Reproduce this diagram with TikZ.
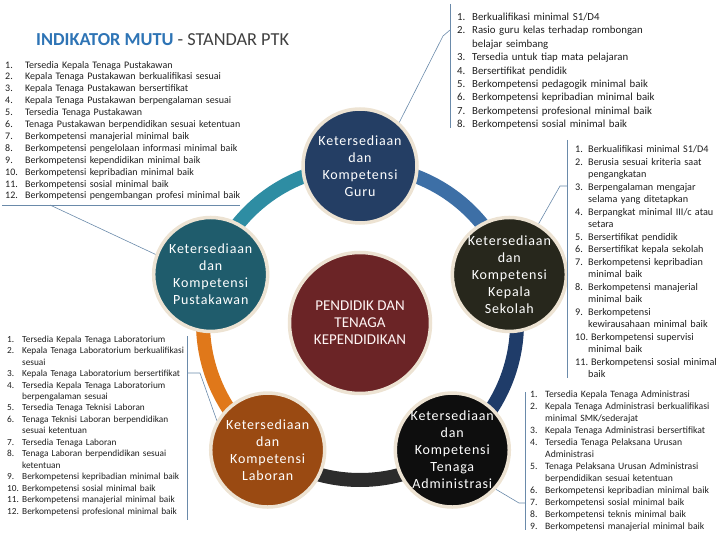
\documentclass[tikz,border=0pt]{standalone}
\usepackage{fontspec}
\setmainfont{Carlito}
\newfontfamily\discfont[LetterSpace=6]{Carlito}
\usetikzlibrary{positioning,backgrounds}

\definecolor{titleBlue}{HTML}{2E74B5}
\definecolor{titleGray}{HTML}{404040}
\definecolor{guruBlue}{HTML}{243E64}
\definecolor{pustTeal}{HTML}{1F5C6C}
\definecolor{kepsekDark}{HTML}{27271C}
\definecolor{ptkRed}{HTML}{6B2426}
\definecolor{labBrown}{HTML}{9A4A12}
\definecolor{admBlack}{HTML}{0E0E0E}
\definecolor{discRim}{HTML}{EDE3D3}
\definecolor{ringTeal}{HTML}{2E8DA3}
\definecolor{ringBlue}{HTML}{3D6FA6}
\definecolor{ringNavy}{HTML}{1F3C69}
\definecolor{ringGray}{HTML}{2C2C2C}
\definecolor{ringOrange}{HTML}{E0781A}
\definecolor{calloutLine}{HTML}{6A8AAA}

\newcounter{mutuitem}
\newenvironment{mutulist}[2]{%
  \begin{list}{\arabic{mutuitem}.}{\usecounter{mutuitem}%
    \setlength\leftmargin{#1}\setlength\labelsep{#2}%
    \setlength\labelwidth{\leftmargin}\addtolength\labelwidth{-\labelsep}%
    \setlength\itemsep{0pt}\setlength\parsep{0pt}\setlength\topsep{0pt}%
    \setlength\partopsep{0pt}\setlength\itemindent{0pt}%
    \renewcommand\makelabel[1]{##1\hfil}}}%
  {\end{list}}

\begin{document}
\begin{tikzpicture}[
  x=1pt, y=1pt,
  disc/.style={circle, draw=discRim, line width=3.5pt, minimum size=114pt, inner sep=0pt},
  disclabel/.style={text=white, align=center, font=\discfont\fontsize{14}{17}\selectfont},
  band/.style={line width=14pt},
  mututext/.style={anchor=north west, inner sep=0pt, text width=300pt, align=left, text=black!88},
  callout/.style={draw=calloutLine, line width=0.6pt}
]
\useasboundingbox (0,0) rectangle (720,-540);
\coordinate (hub) at (360,-323);

% lingkaran
\node[disc, minimum size=141pt, fill=ptkRed] (ptk) at (hub) {};
\node[text=red!4!white, align=center, font=\fontsize{15}{17}\selectfont] at (ptk) {PENDIDIK DAN\\TENAGA\\KEPENDIDIKAN};
\node[disc, fill=guruBlue] (guru) at ([shift={(90:157)}]hub) {};
\node[disclabel] at (guru) {Ketersediaan\\dan\\Kompetensi\\Guru};
\node[disc, fill=pustTeal] (pust) at ([shift={(162:157)}]hub) {};
\node[disclabel] at (pust) {Ketersediaan\\dan\\Kompetensi\\Pustakawan};
\node[disc, fill=kepsekDark] (kepsek) at ([shift={(18:157)}]hub) {};
\node[disclabel] at (kepsek) {Ketersediaan\\dan\\Kompetensi\\Kepala\\Sekolah};
\node[disc, fill=labBrown] (lab) at ([shift={(-126:157)}]hub) {};
\node[disclabel] at (lab) {Ketersediaan\\dan\\Kompetensi\\Laboran};
\node[disc, fill=admBlack] (adm) at ([shift={(-54:157)}]hub) {};
\node[disclabel] at (adm) {Ketersediaan\\dan\\Kompetensi\\Tenaga\\Administrasi};

% cincin
\begin{scope}[on background layer]
\draw[band, draw=ringBlue] (guru.center) arc[start angle=90, end angle=18, radius=157];
\draw[band, draw=ringNavy] (kepsek.center) arc[start angle=18, end angle=-54, radius=157];
\draw[band, draw=ringGray] (adm.center) arc[start angle=-54, end angle=-126, radius=157];
\draw[band, draw=ringOrange] (lab.center) arc[start angle=-126, end angle=-198, radius=157];
\draw[band, draw=ringTeal] (pust.center) arc[start angle=162, end angle=90, radius=157];
\end{scope}

\node[anchor=west, inner sep=0pt, font=\fontsize{18.3}{21}\selectfont] (title) at (36,-40)
  {\textcolor{titleBlue}{\bfseries INDIKATOR MUTU} \textcolor{titleGray}{- STANDAR PTK}};

% daftar
\node[mututext, font=\fontsize{10}{11.9}\selectfont] (lpust) at (5,-56) {\begin{mutulist}{20pt}{6pt}
\item Tersedia Kepala Tenaga Pustakawan
\item Kepala Tenaga Pustakawan berkualifikasi sesuai
\item Kepala Tenaga Pustakawan bersertifikat
\item Kepala Tenaga Pustakawan berpengalaman sesuai
\item Tersedia Tenaga Pustakawan
\item Tenaga Pustakawan berpendidikan sesuai ketentuan
\item Berkompetensi manajerial minimal baik
\item Berkompetensi pengelolaan informasi minimal baik
\item Berkompetensi kependidikan minimal baik
\item Berkompetensi kepribadian minimal baik
\item Berkompetensi sosial minimal baik
\item Berkompetensi pengembangan profesi minimal baik
\end{mutulist}};

\node[mututext, font=\fontsize{10.8}{13.4}\selectfont] (lguru) at (457,-7) {\begin{mutulist}{15pt}{4pt}
\item Berkualifikasi minimal S1/D4
\item Rasio guru kelas terhadap rombongan\\ belajar seimbang
\item Tersedia untuk tiap mata pelajaran
\item Bersertifikat pendidik
\item Berkompetensi pedagogik minimal baik
\item Berkompetensi kepribadian minimal baik
\item Berkompetensi profesional minimal baik
\item Berkompetensi sosial minimal baik
\end{mutulist}};

\node[mututext, font=\fontsize{10.2}{12.5}\selectfont] (lkepsek) at (575,-140) {\begin{mutulist}{13pt}{3pt}
\item Berkualifikasi minimal S1/D4
\item Berusia sesuai kriteria saat\\ pengangkatan
\item Berpengalaman mengajar\\ selama yang ditetapkan
\item Berpangkat minimal III/c atau\\ setara
\item Bersertifikat pendidik
\item Bersertifikat kepala sekolah
\item Berkompetensi kepribadian\\ minimal baik
\item Berkompetensi manajerial\\ minimal baik
\item Berkompetensi\\ kewirausahaan minimal baik
\item Berkompetensi supervisi\\ minimal baik
\item Berkompetensi sosial minimal\\ baik
\end{mutulist}};

\node[mututext, font=\fontsize{9.3}{11.47}\selectfont] (llab) at (7,-330.5) {\begin{mutulist}{15pt}{3pt}
\item Tersedia Kepala Tenaga Laboratorium
\item Kepala Tenaga Laboratorium berkualifikasi\\ sesuai
\item Kepala Tenaga Laboratorium bersertifikat
\item Tersedia Kepala Tenaga Laboratorium\\ berpengalaman sesuai
\item Tersedia Tenaga Teknisi Laboran
\item Tenaga Teknisi Laboran berpendidikan\\ sesuai ketentuan
\item Tersedia Tenaga Laboran
\item Tenaga Laboran berpendidikan sesuai\\ ketentuan
\item Berkompetensi kepribadian minimal baik
\item Berkompetensi sosial minimal baik
\item Berkompetensi manajerial minimal baik
\item Berkompetensi profesional minimal baik
\end{mutulist}};

\node[mututext, font=\fontsize{9.7}{12}\selectfont] (ladm) at (530,-385.5) {\begin{mutulist}{15pt}{3pt}
\item Tersedia Kepala Tenaga Administrasi
\item Kepala Tenaga Administrasi berkualifikasi\\ minimal SMK/sederajat
\item Kepala Tenaga Administrasi bersertifikat
\item Tersedia Tenaga Pelaksana Urusan\\ Administrasi
\item Tenaga Pelaksana Urusan Administrasi\\ berpendidikan sesuai ketentuan
\item Berkompetensi kepribadian minimal baik
\item Berkompetensi sosial minimal baik
\item Berkompetensi teknis minimal baik
\item Berkompetensi manajerial minimal baik
\end{mutulist}};

% garis penunjuk
\coordinate (pl1) at (2,-205);
\coordinate (pl2) at (240,-205);
\coordinate (pl3) at (50,-205);
\draw[callout] (pl1) -- (pl2);
\draw[callout] (pl3) -- (pust.160);
\coordinate (gt) at (450,-4);
\coordinate (gb) at (450,-128);
\coordinate (gk) at (450,-30);
\coordinate (gk2) at (443,-36);
\draw[callout] (gt) -- (gb);
\draw[callout] (gk) -- (gk2) -- (guru.48);
\coordinate (kt) at (567,-140);
\coordinate (kb) at (567,-378);
\coordinate (kk) at (567,-186);
\coordinate (kk2) at (560,-186);
\draw[callout] (kt) -- (kb);
\draw[callout] (kk) -- (kk2) -- (kepsek.60);
\coordinate (lt) at (187,-336);
\coordinate (lb) at (187,-520);
\coordinate (lk) at (187,-373);
\coordinate (lk2) at (200,-373);
\draw[callout] (lt) -- (lb);
\draw[callout] (lk) -- (lk2) -- (lab.150);
\coordinate (at) at (525,-392);
\coordinate (ab) at (525,-530);
\coordinate (ak) at (525,-503);
\coordinate (ak2) at (519,-503);
\draw[callout] (at) -- (ab);
\draw[callout] (ak) -- (ak2) -- (adm.-42);
\end{tikzpicture}
\end{document}
